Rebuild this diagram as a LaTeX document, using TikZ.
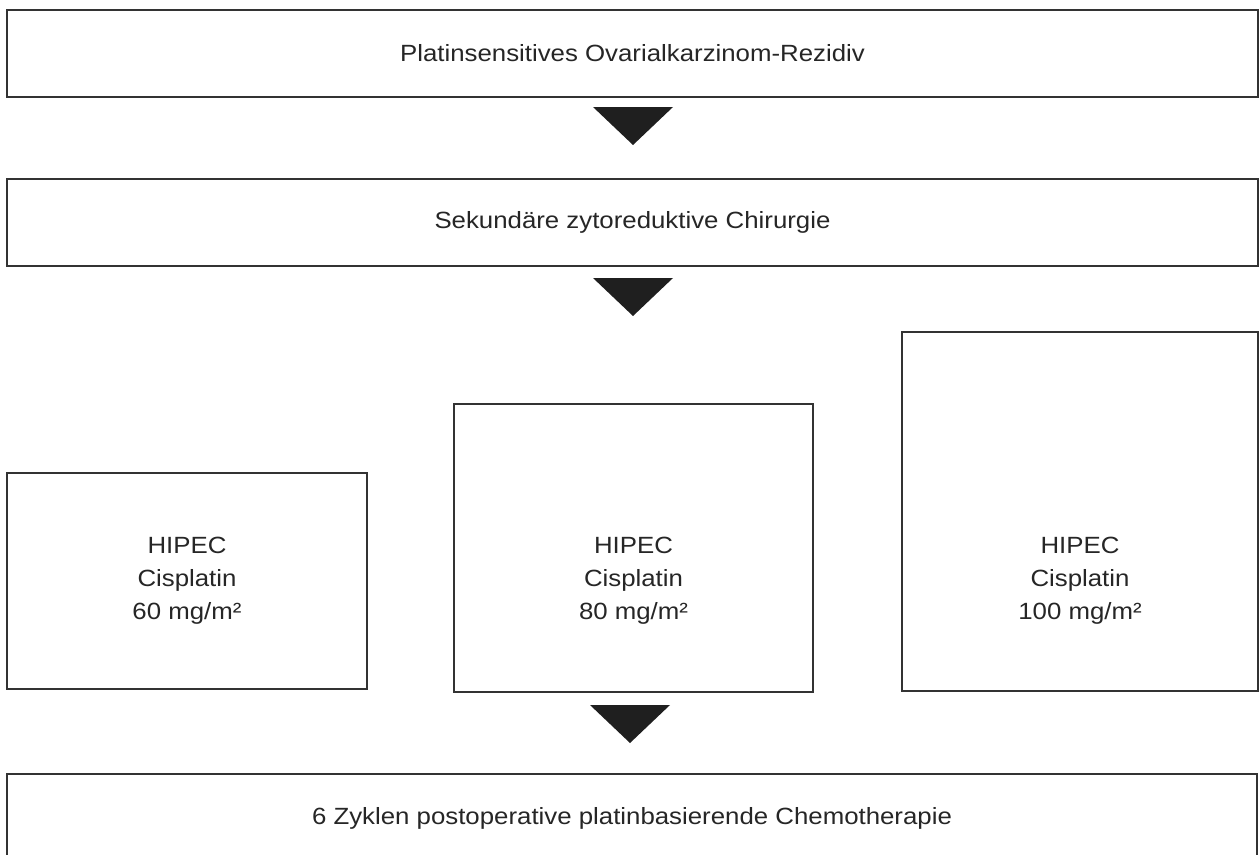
\documentclass[tikz,border=0pt]{standalone}
\usepackage{fontspec}
\setmainfont{Liberation Sans}[FakeStretch=1.1]
\usetikzlibrary{calc}
\begin{document}
\begin{tikzpicture}[x=0.75pt,y=-0.75pt,
  box/.style={draw=black!80, line width=1.5pt, fill=white, rectangle, inner sep=0pt},
  lbl/.style={align=center, font=\fontsize{17.6}{24.75}\selectfont, text=black!85},
  tri/.style={fill=black!88, draw=none}]
\clip (0,0) rectangle (1259,854);
\fill[white] (0,0) rectangle (1259,854);
% top boxes
\node[box, minimum width=1251*0.75pt, minimum height=87*0.75pt] (b1) at (632.5,53.5) {};
\node[lbl] (l1) at (b1.center) {Platinsensitives Ovarialkarzinom-Rezidiv};
\node[box, minimum width=1251*0.75pt, minimum height=87*0.75pt] (b2) at (632.5,222.5) {};
\node[lbl] (l2) at (b2.center) {Sekundäre zytoreduktive Chirurgie};
% HIPEC boxes
\node[box, minimum width=360*0.75pt, minimum height=216*0.75pt] (h1) at (187,581) {};
\node[box, minimum width=359*0.75pt, minimum height=288*0.75pt] (h2) at (633.5,548) {};
\node[box, minimum width=356*0.75pt, minimum height=359*0.75pt] (h3) at (1080,511.5) {};
\node[lbl] (t1) at (187,581) {HIPEC\\Cisplatin\\60 mg/m²};
\node[lbl] (t2) at (633.5,581) {HIPEC\\Cisplatin\\80 mg/m²};
\node[lbl] (t3) at (1080,581) {HIPEC\\Cisplatin\\100 mg/m²};
% bottom box
\node[box, minimum width=1250*0.75pt, minimum height=88*0.75pt] (b4) at (632,818) {};
\node[lbl] (l4) at (b4.center) {6 Zyklen postoperative platinbasierende Chemotherapie};
% arrow triangles
\coordinate (a1) at (633,107);
\coordinate (a2) at (633,278);
\coordinate (a3) at (630,705);
\fill[tri] ($(a1)+(-40,0)$) -- ($(a1)+(40,0)$) -- ($(a1)+(0,38)$) -- cycle;
\fill[tri] ($(a2)+(-40,0)$) -- ($(a2)+(40,0)$) -- ($(a2)+(0,38)$) -- cycle;
\fill[tri] ($(a3)+(-40,0)$) -- ($(a3)+(40,0)$) -- ($(a3)+(0,38)$) -- cycle;
\end{tikzpicture}
\end{document}
